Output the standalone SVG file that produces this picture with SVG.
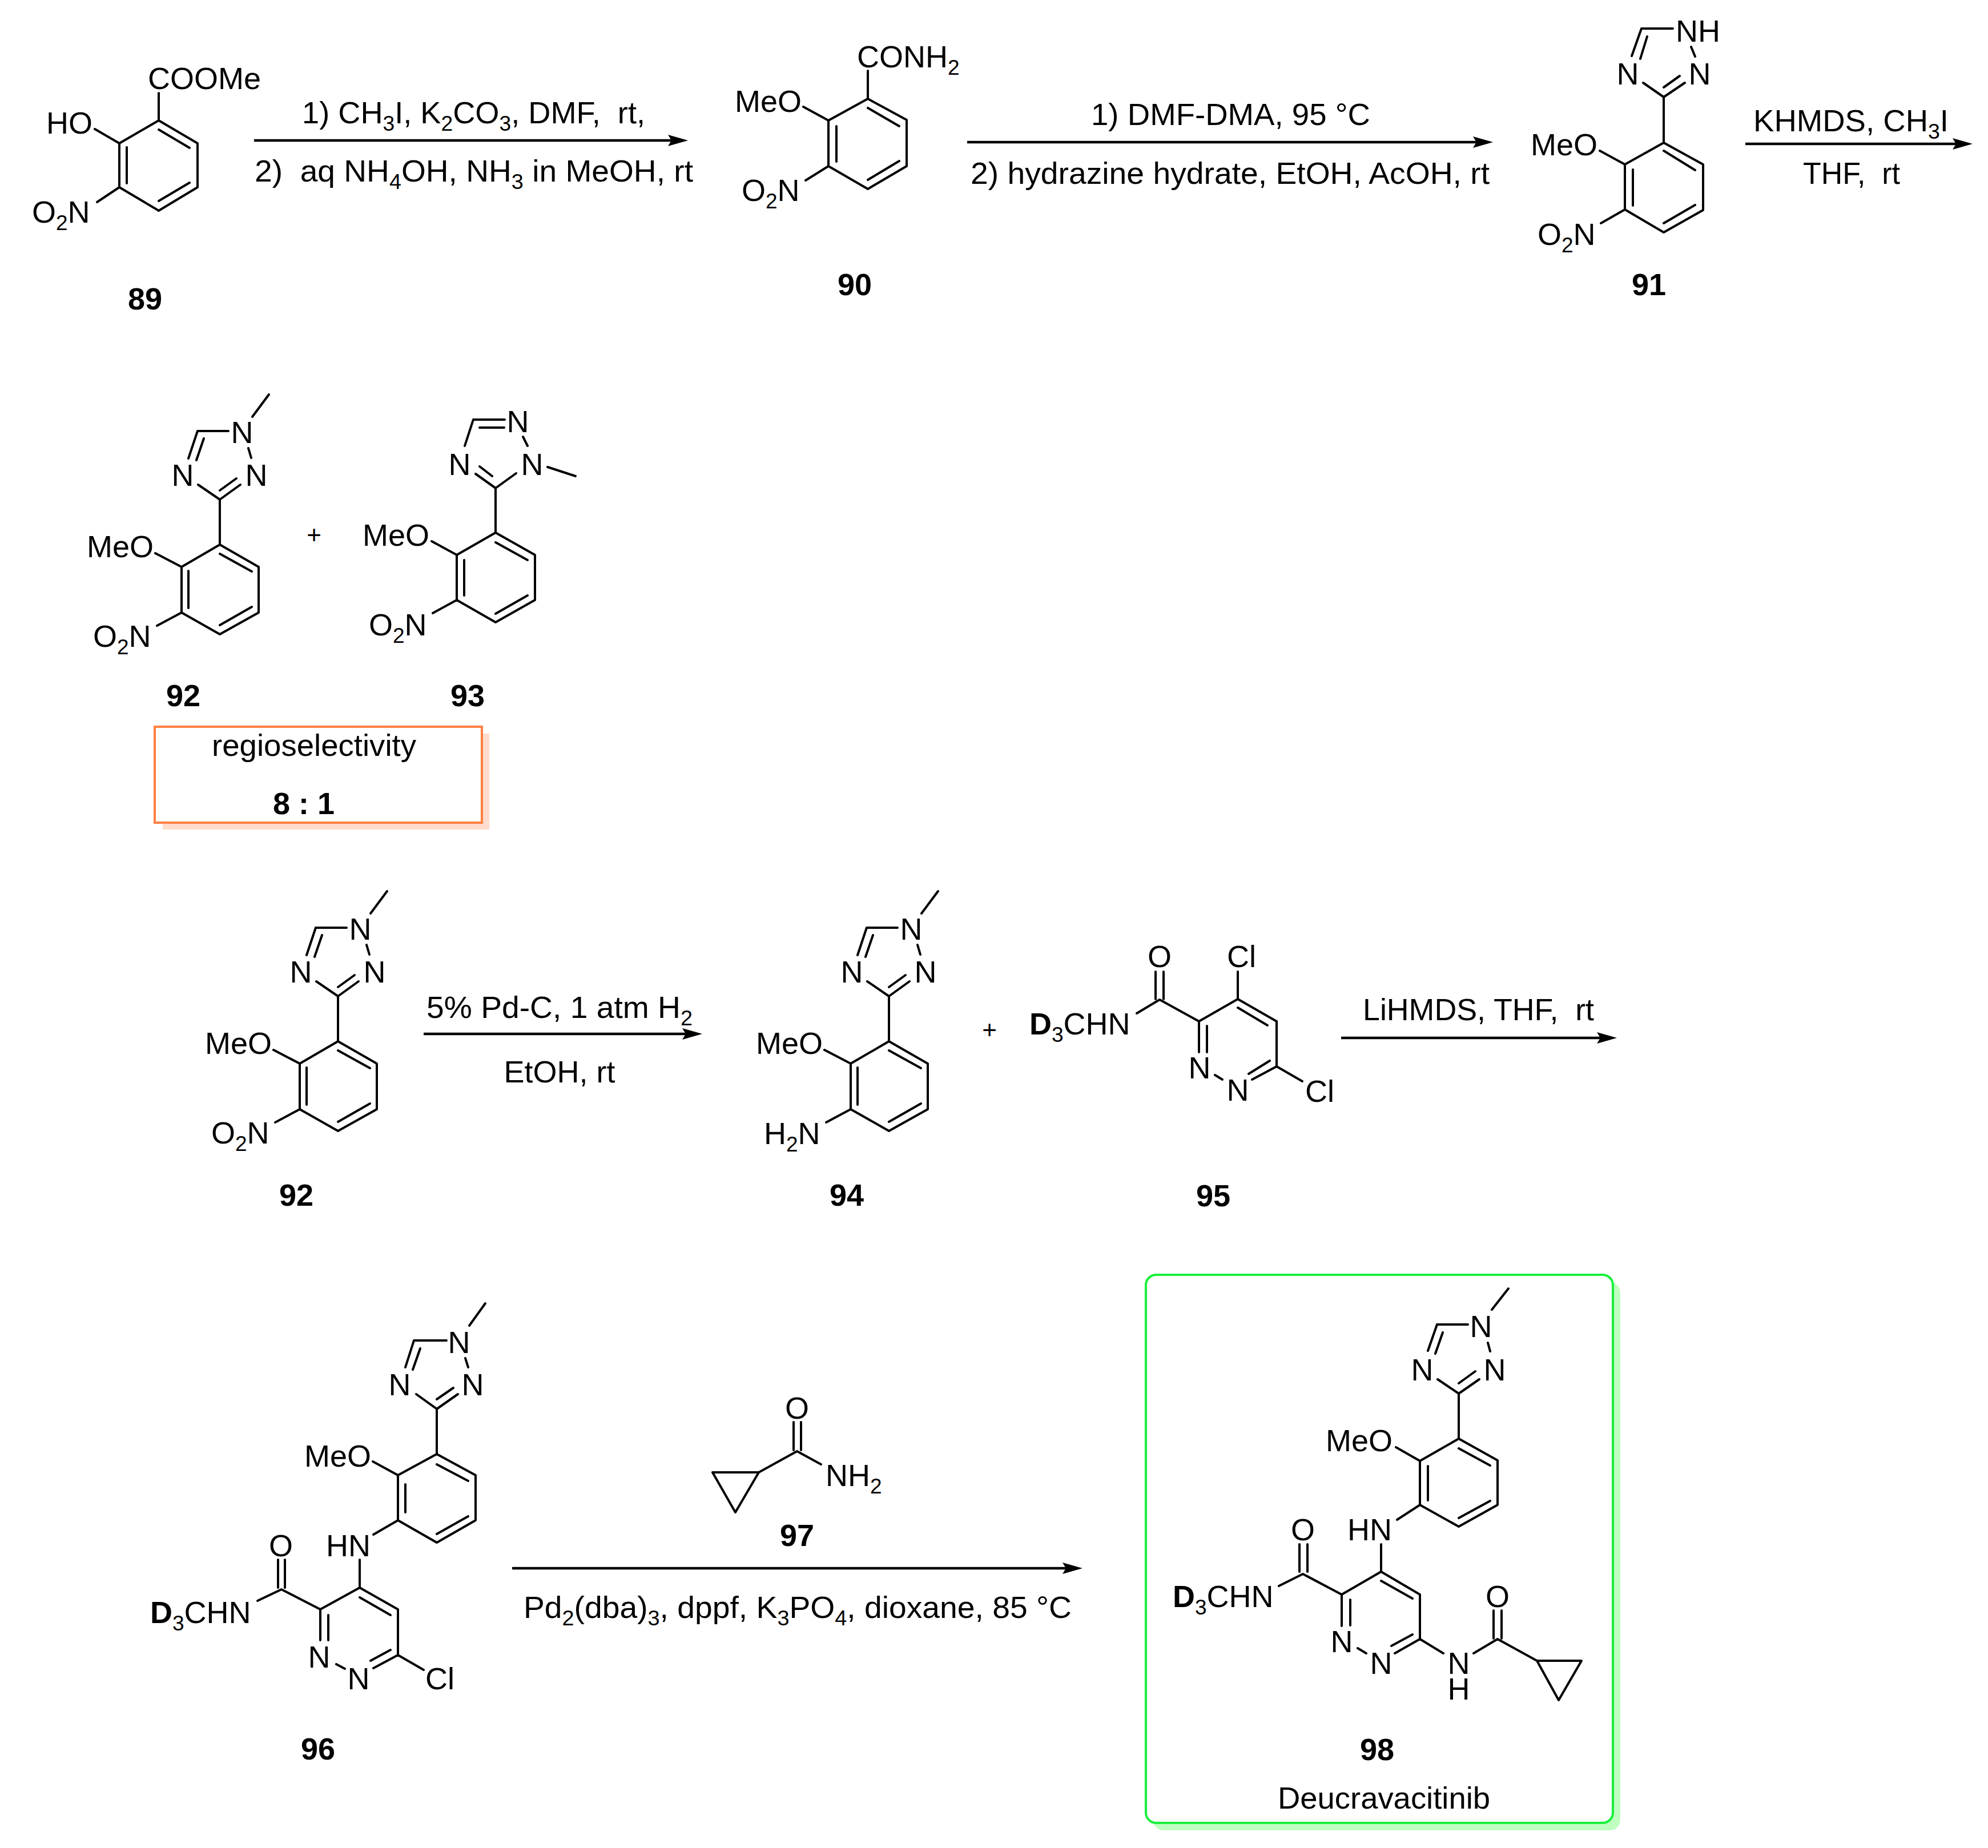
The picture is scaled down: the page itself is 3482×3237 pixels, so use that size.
<svg xmlns="http://www.w3.org/2000/svg" width="3482" height="3237" viewBox="0 0 3482 3237">
<style>
text{font-family:"Liberation Sans",Arial,sans-serif;font-size:54px;fill:#000;white-space:pre;transform:translate(-2px,2px)}
text.m{text-anchor:middle;transform:translate(0,2px)}
.b{font-weight:bold}
.s{font-size:37px}
.bond{fill:none;stroke:#000;stroke-width:4;stroke-linecap:round;stroke-linejoin:round}
.arrow{fill:none;stroke:#000;stroke-width:4.5;marker-end:url(#head)}
</style>
<defs>
<marker id="head" markerUnits="userSpaceOnUse" markerWidth="44" markerHeight="26" refX="6" refY="13" orient="auto" overflow="visible"><path d="M0,3 L35,13 L0,23 L6,13 Z" fill="#000"/></marker>
<path id="core92" class="bond" d="M385,954 L453,993 L453,1073 L385,1111 L318,1073 L318,993 Z M385,970 L441,1001 M330,1000 L330,1065 M441,1063 L385,1095 M385,954 L385,875 L421,849 M385,859 L414,838 M385,875 L347,849 M346,755 L330,803 M357,768 L344,806 M346,755 L400,755 M435,785 L440,802 M442,730 L471,691 M318,993 L272,969 M318,1073 L275,1096"/>
</defs>
<rect width="3482" height="3237" fill="#fff"/>

<g id="connectors">
<line class="arrow" x1="445" y1="246" x2="1176" y2="246"/>
<line class="arrow" x1="1694" y1="249" x2="2586" y2="249"/>
<line class="arrow" x1="3057" y1="252" x2="3426" y2="252"/>
<line class="arrow" x1="742" y1="1811" x2="1201" y2="1811"/>
<line class="arrow" x1="2349" y1="1818" x2="2803" y2="1818"/>
<line class="arrow" x1="897" y1="2747" x2="1867" y2="2747"/>
</g>

<g id="mol-89">
<path class="bond" d="M278,211 L346,251 L346,328 L278,369 L209,328 L209,251 Z M278,227 L332,259 M222,258 L222,321 M332,320 L278,352 M278,211 L278,163 M209,251 L166,226 M209,328 L170,354"/>
<text x="261" y="154">COOMe</text>
<text x="83" y="232">HO</text>
<text x="58" y="388">O<tspan class="s" dy="13">2</tspan><tspan dy="-13">N</tspan></text>
<text class="b m" x="254" y="540">89</text>
</g>

<g id="reagents-1">
<text x="531" y="214" textLength="601" lengthAdjust="spacingAndGlyphs">1) CH<tspan class="s" dy="13">3</tspan><tspan dy="-13">I, K</tspan><tspan class="s" dy="13">2</tspan><tspan dy="-13">CO</tspan><tspan class="s" dy="13">3</tspan><tspan dy="-13">, DMF,  rt,</tspan></text>
<text x="448" y="316" textLength="768" lengthAdjust="spacingAndGlyphs">2)  aq NH<tspan class="s" dy="13">4</tspan><tspan dy="-13">OH, NH</tspan><tspan class="s" dy="13">3</tspan><tspan dy="-13"> in MeOH, rt</tspan></text>
</g>

<g id="mol-90">
<path class="bond" d="M1520,173 L1588,210 L1588,291 L1520,331 L1451,291 L1451,211 Z M1520,189 L1575,221 M1465,221 L1465,283 M1575,282 L1520,315 M1520,173 L1520,124 M1451,211 L1407,187 M1451,291 L1411,316"/>
<text x="1503" y="116">CONH<tspan class="s" dy="13">2</tspan></text>
<text x="1289" y="194">MeO</text>
<text x="1301" y="350">O<tspan class="s" dy="13">2</tspan><tspan dy="-13">N</tspan></text>
<text class="b m" x="1497" y="515">90</text>
</g>

<g id="reagents-2">
<text x="1913" y="217" textLength="489" lengthAdjust="spacingAndGlyphs">1) DMF-DMA, 95 °C</text>
<text x="1702" y="320" textLength="909" lengthAdjust="spacingAndGlyphs">2) hydrazine hydrate, EtOH, AcOH, rt</text>
</g>

<g id="mol-91">
<path class="bond" d="M2914,250 L2983,288 L2983,368 L2914,407 L2846,367 L2846,288 Z M2914,264 L2969,298 M2860,297 L2860,360 M2969,359 L2914,391 M2914,250 L2914,170 L2951,145 M2914,153 L2942,133 M2914,170 L2878,145 M2875,50 L2858,98 M2885,64 L2873,103 M2875,50 L2930,50 M2962,82 L2969,99 M2846,288 L2802,264 M2846,367 L2804,391"/>
<text class="m" x="2851" y="146">N</text>
<text class="m" x="2977" y="146">N</text>
<text x="2937" y="71">NH</text>
<text x="2683" y="270">MeO</text>
<text x="2695" y="427">O<tspan class="s" dy="13">2</tspan><tspan dy="-13">N</tspan></text>
<text class="b m" x="2888" y="515">91</text>
</g>

<g id="reagents-3">
<text x="3073" y="228" textLength="342" lengthAdjust="spacingAndGlyphs">KHMDS, CH<tspan class="s" dy="13">3</tspan><tspan dy="-13">I</tspan></text>
<text x="3160" y="320" textLength="170" lengthAdjust="spacingAndGlyphs">THF,  rt</text>
</g>

<g id="mol-92">
<use href="#core92"/>
<text class="m" x="320" y="849">N</text>
<text class="m" x="449" y="849">N</text>
<text class="m" x="424" y="774">N</text>
<text x="154" y="974">MeO</text>
<text x="165" y="1131">O<tspan class="s" dy="13">2</tspan><tspan dy="-13">N</tspan></text>
<text class="b m" x="321" y="1235">92</text>
</g>

<text id="plus-1" class="m" x="550" y="950" style="font-size:44px">+</text>

<g id="mol-93">
<path class="bond" d="M868,933 L937,972 L937,1051 L868,1090 L800,1051 L800,972 Z M868,950 L924,981 M813,981 L813,1043 M924,1043 L868,1075 M868,933 L868,855 L904,829 M868,855 L833,830 M840,817 L862,834 M829,735 L884,735 M840,749 L883,749 M829,735 L814,781 M916,765 L924,781 M959,818 L1008,834 M800,972 L756,948 M800,1051 L758,1074"/>
<text class="m" x="805" y="830">N</text>
<text class="m" x="932" y="830">N</text>
<text class="m" x="907" y="755">N</text>
<text x="637" y="954">MeO</text>
<text x="648" y="1111">O<tspan class="s" dy="13">2</tspan><tspan dy="-13">N</tspan></text>
<text class="b m" x="819" y="1235">93</text>
</g>

<g id="regioselectivity-box">
<rect x="285" y="1285" width="572" height="168" fill="#ffdccb"/>
<rect x="271" y="1273" width="573" height="168" fill="#fff" stroke="#ff8040" stroke-width="4"/>
<text class="m" x="550" y="1322" textLength="358" lengthAdjust="spacingAndGlyphs">regioselectivity</text>
<text class="b m" x="532" y="1424">8 : 1</text>
</g>

<g id="mol-92b">
<use href="#core92" x="207" y="870"/>
<text class="m" x="527" y="1719">N</text>
<text class="m" x="656" y="1719">N</text>
<text class="m" x="631" y="1644">N</text>
<text x="361" y="1844">MeO</text>
<text x="372" y="2001">O<tspan class="s" dy="13">2</tspan><tspan dy="-13">N</tspan></text>
<text class="b m" x="519" y="2110">92</text>
</g>

<g id="reagents-4">
<text x="749" y="1781" textLength="466" lengthAdjust="spacingAndGlyphs">5% Pd-C, 1 atm H<tspan class="s" dy="13">2</tspan></text>
<text class="m" x="980" y="1894">EtOH, rt</text>
</g>

<g id="mol-94">
<use href="#core92" x="1172" y="870"/>
<text class="m" x="1492" y="1719">N</text>
<text class="m" x="1621" y="1719">N</text>
<text class="m" x="1596" y="1644">N</text>
<text x="1326" y="1844">MeO</text>
<text x="1340" y="2002">H<tspan class="s" dy="13">2</tspan><tspan dy="-13">N</tspan></text>
<text class="b m" x="1483" y="2110">94</text>
</g>

<text id="plus-2" class="m" x="1733" y="1817" style="font-size:44px">+</text>

<g id="mol-95">
<path class="bond" d="M2100,1789 L2168,1750 L2236,1789 L2236,1868 L2193,1891 M2187,1881 L2224,1858 M2168,1765 L2220,1796 M2100,1789 L2100,1843 M2114,1797 L2114,1843 M2128,1883 L2141,1891 M2168,1702 L2168,1750 M2236,1868 L2281,1894 M2100,1789 L2031,1751 L1991,1775 M2024,1702 L2024,1750 M2038,1702 L2038,1750"/>
<text x="1805" y="1810"><tspan class="b">D</tspan><tspan class="s" dy="13">3</tspan><tspan dy="-13">CHN</tspan></text>
<text class="m" x="2031" y="1692">O</text>
<text x="2151" y="1692">Cl</text>
<text class="m" x="2101" y="1887">N</text>
<text class="m" x="2168" y="1926">N</text>
<text x="2288" y="1928">Cl</text>
<text class="b m" x="2125" y="2111">95</text>
</g>

<text id="reagents-5" x="2389" y="1785" textLength="405" lengthAdjust="spacingAndGlyphs">LiHMDS, THF,  rt</text>

<g id="mol-96">
<path class="bond" d="M765,2547 L833,2584 L833,2663 L765,2702 L697,2663 L697,2584 Z M765,2565 L820,2594 M710,2600 L710,2649 M820,2656 L765,2687 M765,2547 L765,2468 L802,2442 M765,2451 L794,2431 M765,2468 L729,2442 M725,2348 L710,2395 M736,2362 L723,2399 M725,2348 L782,2348 M815,2379 L820,2395 M822,2322 L850,2283 M697,2584 L653,2560 M697,2663 L654,2688 M630,2732 L630,2781 L697,2819 L697,2899 L654,2922 M649,2909 L684,2890 M630,2798 L684,2829 M630,2781 L561,2819 L561,2873 M575,2829 L575,2873 M589,2915 L604,2923 M697,2899 L742,2925 M561,2819 L493,2784 L451,2804 M487,2732 L487,2781 M499,2732 L499,2781"/>
<text class="m" x="804" y="2368">N</text>
<text class="m" x="700" y="2442">N</text>
<text class="m" x="828" y="2442">N</text>
<text x="535" y="2567">MeO</text>
<text x="573" y="2724">HN</text>
<text class="m" x="492" y="2724">O</text>
<text x="265" y="2841"><tspan class="b">D</tspan><tspan class="s" dy="13">3</tspan><tspan dy="-13">CHN</tspan></text>
<text class="m" x="559" y="2919">N</text>
<text class="m" x="628" y="2957">N</text>
<text x="747" y="2957">Cl</text>
<text class="b m" x="557" y="3080">96</text>
</g>

<g id="mol-97">
<path class="bond" d="M1248,2579 L1329,2579 L1288,2649 Z M1329,2579 L1396,2542 L1438,2565 M1390,2491 L1390,2540 M1403,2491 L1403,2540"/>
<text class="m" x="1396" y="2483">O</text>
<text x="1448" y="2601">NH<tspan class="s" dy="13">2</tspan></text>
<text class="b m" x="1396" y="2706">97</text>
</g>

<text id="reagents-6" x="919" y="2832" textLength="960" lengthAdjust="spacingAndGlyphs">Pd<tspan class="s" dy="13">2</tspan><tspan dy="-13">(dba)</tspan><tspan class="s" dy="13">3</tspan><tspan dy="-13">, dppf, K</tspan><tspan class="s" dy="13">3</tspan><tspan dy="-13">PO</tspan><tspan class="s" dy="13">4</tspan><tspan dy="-13">, dioxane, 85 °C</tspan></text>

<g id="mol-98">
<rect x="2020" y="2246" width="818" height="960" rx="18" fill="#bfffc0"/>
<rect x="2007" y="2233" width="818" height="960" rx="18" fill="#fff" stroke="#19f03c" stroke-width="4"/>
<path class="bond" d="M2555,2520 L2623,2558 L2623,2636 L2555,2674 L2487,2636 L2487,2559 Z M2555,2537 L2610,2567 M2501,2568 L2501,2628 M2610,2629 L2555,2659 M2555,2520 L2555,2441 L2591,2416 M2555,2423 L2584,2402 M2555,2441 L2518,2416 M2517,2320 L2501,2366 M2527,2334 L2514,2371 M2517,2320 L2571,2320 M2606,2352 L2610,2367 M2613,2294 L2642,2257 M2487,2559 L2445,2535 M2487,2636 L2447,2662 M2419,2705 L2419,2753 L2487,2793 L2487,2871 L2443,2896 M2437,2883 L2474,2863 M2419,2769 L2474,2800 M2419,2753 L2350,2793 L2350,2848 M2365,2802 L2365,2847 M2378,2887 L2393,2896 M2350,2793 L2282,2757 L2240,2778 M2276,2705 L2276,2753 M2290,2705 L2290,2753 M2487,2871 L2528,2896 M2581,2896 L2623,2871 L2692,2909 M2616,2821 L2616,2870 M2630,2821 L2630,2870 M2692,2909 L2770,2909 L2730,2978 Z"/>
<text class="m" x="2594" y="2340">N</text>
<text class="m" x="2491" y="2416">N</text>
<text class="m" x="2618" y="2416">N</text>
<text x="2324" y="2540">MeO</text>
<text x="2362" y="2696">HN</text>
<text class="m" x="2282" y="2696">O</text>
<text x="2056" y="2813"><tspan class="b">D</tspan><tspan class="s" dy="13">3</tspan><tspan dy="-13">CHN</tspan></text>
<text class="m" x="2350" y="2892">N</text>
<text class="m" x="2419" y="2930">N</text>
<text class="m" x="2555" y="2930">N</text>
<text class="m" x="2555" y="2975">H</text>
<text class="m" x="2623" y="2813">O</text>
<text class="b m" x="2412" y="3081">98</text>
<text x="2240" y="3166" textLength="372" lengthAdjust="spacingAndGlyphs">Deucravacitinib</text>
</g>
</svg>
